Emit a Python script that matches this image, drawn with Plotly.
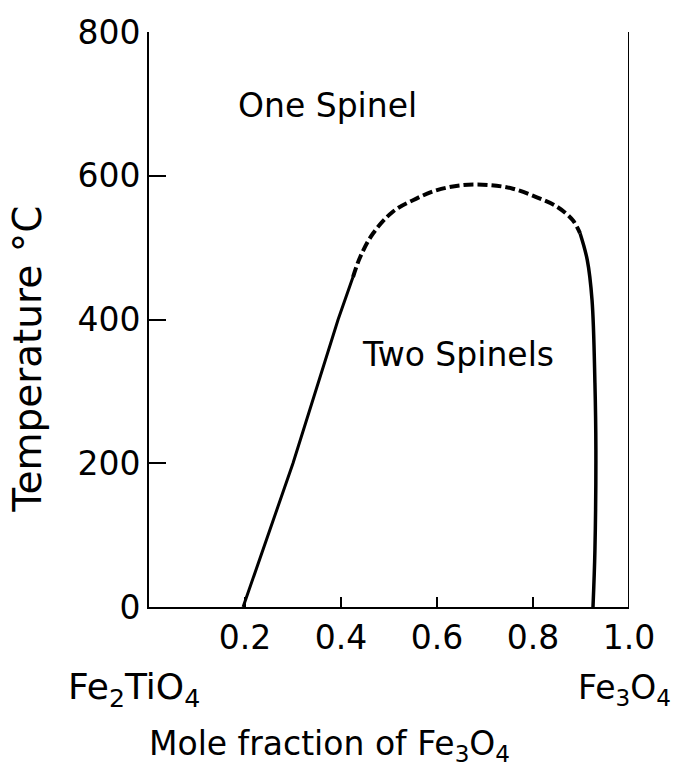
import plotly.graph_objects as go

# Phase boundary (solvus)
left_x = [0.196, 0.300, 0.394, 0.425]
left_y = [0, 200, 400, 459]
dash_x = [0.425, 0.440, 0.467, 0.508, 0.550, 0.600, 0.654, 0.710, 0.758, 0.808, 0.850, 0.883, 0.898]
dash_y = [459, 487, 520, 550, 566, 580, 587, 587, 582, 570, 557, 538, 520]
right_x = [0.898, 0.913, 0.923, 0.929, 0.931, 0.929, 0.925]
right_y = [520, 483, 427, 312, 218, 79, 0]

# Right boundary (pure Fe3O4)
edge_x = [1.0, 1.0]
edge_y = [0, 800]

x_tickvals = [0.2, 0.4, 0.6, 0.8, 1.0]
x_ticktext = ["0.2", "0.4", "0.6", "0.8", "1.0"]
y_tickvals = [0, 200, 400, 600, 800]
y_ticktext = ["0", "200", "400", "600", "800"]

FONT = "DejaVu Sans"
FS = 33
black = "#000000"

fig = go.Figure()
fig.add_trace(go.Scatter(x=left_x, y=left_y, mode="lines",
                         line=dict(color=black, width=3), hoverinfo="skip"))
fig.add_trace(go.Scatter(x=dash_x, y=dash_y, mode="lines",
                         line=dict(color=black, width=4, dash="10px,4px", shape="spline"),
                         hoverinfo="skip"))
fig.add_trace(go.Scatter(x=right_x, y=right_y, mode="lines",
                         line=dict(color=black, width=3.5, shape="spline"), hoverinfo="skip"))
fig.add_trace(go.Scatter(x=edge_x, y=edge_y, mode="lines",
                         line=dict(color=black, width=2), hoverinfo="skip"))

fig.update_layout(
    width=690, height=770,
    margin=dict(l=149, r=61, t=32, b=163),
    paper_bgcolor="white", plot_bgcolor="white",
    showlegend=False,
    font=dict(family=FONT, size=FS, color=black),
)
fig.update_xaxes(
    range=[0, 1.0], tickmode="array", tickvals=x_tickvals, ticktext=x_ticktext,
    showgrid=False, zeroline=False, showline=True, linecolor=black, linewidth=2,
    ticks="inside", ticklen=10, tickwidth=2, tickcolor=black,
    tickfont=dict(family=FONT, size=FS, color=black),
)
fig.update_yaxes(
    range=[0, 800], tickmode="array", tickvals=y_tickvals, ticktext=y_ticktext,
    showgrid=False, zeroline=False, showline=True, linecolor=black, linewidth=2,
    ticks="inside", ticklen=17, tickwidth=2, tickcolor=black,
    tickfont=dict(family=FONT, size=FS, color=black),
)

ann = [
    dict(x=0.371, y=698, xref="x", yref="y", text="One Spinel", size=FS),
    dict(x=0.644, y=351, xref="x", yref="y", text="Two Spinels", size=FS),
    dict(x=-0.031, y=-0.144, xref="paper", yref="paper", text="Fe<sub>2</sub>TiO<sub>4</sub>", size=36),
    dict(x=0.99, y=-0.144, xref="paper", yref="paper", text="Fe<sub>3</sub>O<sub>4</sub>", size=FS),
    dict(x=0.377, y=-0.24, xref="paper", yref="paper", text="Mole fraction of Fe<sub>3</sub>O<sub>4</sub>", size=FS),
    dict(x=-0.252, y=0.43, xref="paper", yref="paper", text="Temperature °C", textangle=-90, size=39),
]
for a in ann:
    size = a.pop("size")
    fig.add_annotation(showarrow=False, font=dict(family=FONT, size=size, color=black),
                       xanchor="center", yanchor="middle", **a)

fig.write_html("out.html")
